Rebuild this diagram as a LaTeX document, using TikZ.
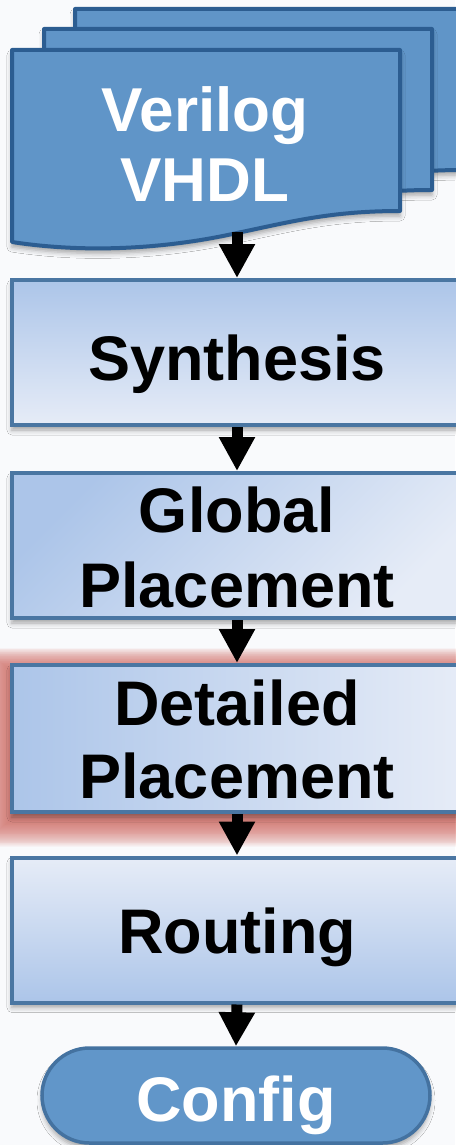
\documentclass[tikz,border=0pt]{standalone}
\usepackage{fontspec}
\setmainfont{Liberation Sans}
\usetikzlibrary{arrows.meta,shapes.misc,shadows.blur}

\definecolor{docblue}{RGB}{96,149,200}
\definecolor{docedge}{RGB}{44,93,145}
\definecolor{boxedge}{RGB}{74,118,162}
\definecolor{boxdark}{RGB}{172,197,233}
\definecolor{boxlight}{RGB}{230,236,247}
\definecolor{termblue}{RGB}{97,150,201}
\definecolor{termedge}{RGB}{68,114,160}
\definecolor{glowred}{RGB}{212,108,98}
\definecolor{pagebg}{RGB}{249,250,252}

\pgfdeclarelayer{back}
\pgfsetlayers{back,main}

\tikzset{
  softshadow/.style={blur shadow={shadow xshift=0pt,shadow yshift=-5pt,shadow blur radius=5pt,shadow opacity=35}},
  docshape/.style={fill=docblue,draw=docedge,line width=4pt,line join=round,softshadow},
  doctext/.style={text=white,font=\bfseries\fontsize{62}{70}\selectfont,align=center,inner sep=0pt,anchor=north},
  procbox/.style={draw=boxedge,line width=4pt,top color=boxdark,bottom color=boxlight,
    minimum width=450pt,minimum height=145pt,inner sep=0pt,softshadow},
  proctext/.style={text=black,font=\bfseries\fontsize{63}{75}\selectfont,align=center,inner sep=0pt,anchor=north},
  termshape/.style={rounded rectangle,fill=termblue,draw=termedge,line width=3.5pt,
    minimum width=388pt,minimum height=95pt,inner sep=0pt,softshadow},
  flowarrow/.style={arrows=-{Triangle[width=34pt,length=34pt]},line width=11pt,black}
}

\begin{document}
\begin{tikzpicture}[x=1pt,y=-1pt]

\useasboundingbox (0,0) rectangle (455,1145);

% source files:
\foreach \dx/\dy in {63/-41,32/-21,0/0}
  \draw[docshape,shift={(\dx,\dy)}] (12,50) -- (400,50) -- (400,211)
    .. controls (330,211) and (290,222) .. (237,233)
    .. controls (170,248) and (90,254) .. (12,242) -- cycle;
\node[doctext] (hdltext) at (205,86) {Verilog\\VHDL};
\coordinate (hdlout) at (237,232);

% flow steps:
\node[procbox] (synth) at (237,352.5) {};
\node[procbox,shading angle=45] (glob) at (237,545.5) {};
\node[procbox,shading angle=90,minimum height=147pt] (detail) at (237,738.5) {};
\node[procbox,shading angle=180] (route) at (237,930) {};
\node[termshape] (config) at (236,1095.5) {};

\node[proctext] (synthtext) at (237,335) {Synthesis};
\node[proctext] (globtext) at (237,487) {Global\\Placement};
\node[proctext,font=\bfseries\fontsize{63}{73}\selectfont] (detailtext) at (237,680) {Detailed\\Placement};
\node[proctext] (routetext) at (237,908) {Routing};
\node[proctext,text=white,font=\bfseries\fontsize{63}{72}\selectfont] (configtext) at (236,1076) {Config};

% highlight and page:
\begin{pgfonlayer}{back}
\fill[pagebg] (0,0) rectangle (455,1145);
\foreach \g in {1,...,30}
  \fill[glowred,opacity=.05] ([shift={({-\g},{0.9*\g+6})}]detail.south west) rectangle ([shift={(\g,{-0.7*\g+6})}]detail.north east);
\end{pgfonlayer}

% arrows:
\draw[flowarrow] (hdlout) -- (synth.north);
\draw[flowarrow] (synth.south) -- (glob.north);
\draw[flowarrow] (glob.south) -- (detail.north);
\draw[flowarrow] (detail.south) -- (route.north);
\draw[flowarrow] (route.south) -- (config.north);

\end{tikzpicture}
\end{document}
